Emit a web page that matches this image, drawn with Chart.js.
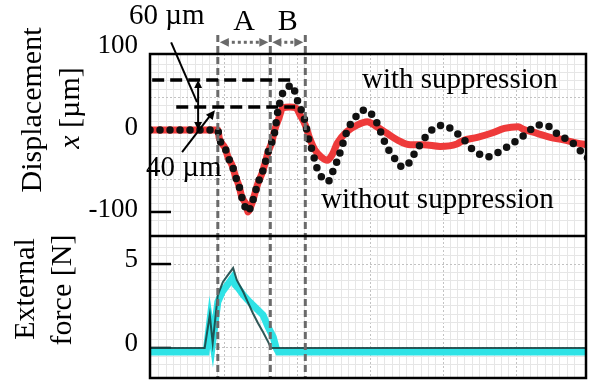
<!DOCTYPE html>
<html>
<head>
<meta charset="utf-8">
<script src="https://cdn.jsdelivr.net/npm/chart.js@4.4.0/dist/chart.umd.min.js"></script>
<style>
  body { margin: 0; background: #fff; }
  #wrap { position: relative; width: 595px; height: 382px; }
</style>
</head>
<body>
<div id="wrap"><canvas id="myChart" width="595" height="382"></canvas></div>
<script>
// time axis: 1 unit = one major grid division
const blackTime = [-0.02, 0.91, 0.93, 1.01, 1.05, 1.11, 1.15, 1.20, 1.24, 1.28, 1.31, 1.35, 1.38, 1.42, 1.46, 1.52, 1.56, 1.60, 1.65, 1.70, 1.72, 1.76, 1.80, 1.87, 1.93, 1.97, 2.01, 2.07, 2.11, 2.15, 2.20, 2.24, 2.28, 2.35, 2.42, 2.48, 2.55, 2.61, 2.68, 2.75, 2.82, 2.89, 2.96, 3.03, 3.09, 3.16, 3.23, 3.30, 3.37, 3.44, 3.51, 3.57, 3.64, 3.73, 3.82, 3.92, 4.00, 4.10, 4.19, 4.27, 4.37, 4.47, 4.60, 4.69, 4.82, 4.92, 5.06, 5.17, 5.29, 5.40, 5.49, 5.58, 5.67, 5.78, 5.91, 5.98]
const blackDisp = [0, 0, -10, -22, -33, -44, -56, -68, -82, -93, -100, -96, -89, -77, -65, -52, -40, -27, -15, 2, 16, 33, 45, 52, 55, 46, 34, 21, 9, -9, -24, -37, -49, -59, -63, -52, -37, -21, -2, 10, 18, 24, 24, 18, 9, -6, -21, -30, -39, -45, -43, -34, -24, -12, -2, 4, 6, 2, -4, -10, -21, -28, -33, -30, -24, -18, -10, -2, 6, 6, 2, -6, -10, -16, -28, -34]

const redTime = [-0.02, 0.91, 0.93, 1.01, 1.05, 1.11, 1.15, 1.20, 1.24, 1.31, 1.32, 1.38, 1.42, 1.46, 1.52, 1.56, 1.60, 1.65, 1.69, 1.75, 1.80, 1.90, 1.98, 2.04, 2.11, 2.17, 2.24, 2.33, 2.41, 2.48, 2.55, 2.68, 2.82, 2.96, 3.09, 3.23, 3.37, 3.55, 3.73, 3.96, 4.19, 4.27, 4.47, 4.66, 4.84, 5.03, 5.10, 5.29, 5.47, 5.65, 5.84, 5.98]
const redDisp = [0, 0, -10, -22, -33, -44, -56, -68, -82, -94, -100, -89, -77, -65, -52, -40, -27, -15, 0, 15, 27, 28, 27, 18, 6, -10, -24, -33, -37, -30, -16, -2, 6, 10, 4, -4, -12, -18, -18, -20, -17, -13, -9, -4, 2, 4, 1, -4, -9, -12, -16, -18]

const forceTime = [-0.02, 0.75, 0.80, 0.84, 0.91, 0.97, 1.04, 1.11, 1.15, 1.19, 1.26, 1.32, 1.39, 1.46, 1.53, 1.60, 1.67, 1.71, 1.74, 5.98]
const forceMeas = [-0.24, -0.24, 1.55, 0.36, 2.74, 3.33, 3.75, 4.17, 3.75, 3.57, 3.15, 2.86, 2.56, 2.26, 1.96, 1.25, 0.65, 0.0, -0.24, -0.24]

const estTime = [-0.02, 0.73, 0.80, 0.84, 0.91, 0.98, 1.05, 1.12, 1.17, 1.26, 1.32, 1.39, 1.46, 1.53, 1.60, 1.64, 5.98]
const forceEst = [0, 0, 1.96, 0.30, 3.15, 3.93, 4.35, 4.76, 4.05, 3.33, 2.74, 2.08, 1.49, 0.95, 0.36, 0, 0]

const dispTicks = [100, 0, -100]
const forceTicks = [5, 0]
const sections = [0.91, 1.63, 2.11]   // A | B limits
const levels = [61, 28]               // peak levels in um

const pts = (t, v) => t.map((x, i) => ({ x: x, y: v[i] }))
const isMajor = (v, step) => Math.abs(v / step - Math.round(v / step)) < 1e-6
const serif = 'Liberation Serif, Times New Roman, serif'

function arrowHead(ctx, x1, y1, x2, y2, size) {
  const a = Math.atan2(y2 - y1, x2 - x1)
  ctx.beginPath()
  ctx.moveTo(x2, y2)
  ctx.lineTo(x2 - size * Math.cos(a - 0.45), y2 - size * Math.sin(a - 0.45))
  ctx.lineTo(x2 - size * Math.cos(a + 0.45), y2 - size * Math.sin(a + 0.45))
  ctx.closePath()
  ctx.fill()
}

function seg(ctx, x1, y1, x2, y2) {
  ctx.beginPath()
  ctx.moveTo(x1, y1)
  ctx.lineTo(x2, y2)
  ctx.stroke()
}

const deco = {
  id: 'deco',
  beforeDatasetsDraw(chart) {
    const { ctx, chartArea: a, scales } = chart
    ctx.save()
    ctx.strokeStyle = '#000'
    ctx.lineWidth = 2.5
    dispTicks.forEach(v => {
      if (v > scales.y.max) return
      const py = scales.y.getPixelForValue(v)
      seg(ctx, a.left, py, a.left + 21, py)
    })
    forceTicks.forEach(v => {
      const py = scales.yf.getPixelForValue(v)
      seg(ctx, a.left, py, a.left + 21, py)
    })
    ctx.restore()
  },
  afterDatasetsDraw(chart) {
    const { ctx, chartArea: a, scales } = chart
    const x = scales.x, y = scales.y
    ctx.save()

    // section boundaries
    ctx.strokeStyle = '#6a6a6a'
    ctx.lineWidth = 3
    ctx.setLineDash([7, 4])
    sections.forEach(t => {
      const px = x.getPixelForValue(t)
      seg(ctx, px, y.getPixelForValue(116), px, a.bottom)
    })

    // A / B span arrows
    const ay = y.getPixelForValue(107)
    ctx.fillStyle = '#6a6a6a'
    for (let i = 0; i < 2; i++) {
      const x1 = x.getPixelForValue(sections[i]) + 2
      const x2 = x.getPixelForValue(sections[i + 1]) - 2
      ctx.setLineDash([3, 3])
      seg(ctx, x1 + 6, ay, x2 - 6, ay)
      ctx.setLineDash([])
      arrowHead(ctx, x2 - 10, ay, x1, ay, 10)
      arrowHead(ctx, x1 + 10, ay, x2, ay, 10)
    }

    // peak level dashed lines
    ctx.strokeStyle = '#000'
    ctx.fillStyle = '#000'
    ctx.lineWidth = 3.5
    ctx.setLineDash([12, 6])
    seg(ctx, x.getPixelForValue(0.01), y.getPixelForValue(levels[0]), x.getPixelForValue(1.94), y.getPixelForValue(levels[0]))
    seg(ctx, x.getPixelForValue(0.34), y.getPixelForValue(levels[1]), x.getPixelForValue(1.97), y.getPixelForValue(levels[1]))
    ctx.setLineDash([])

    // 60 um double arrow
    ctx.lineWidth = 2
    const dx = x.getPixelForValue(0.64)
    const dTop = y.getPixelForValue(levels[0]), dBot = y.getPixelForValue(0)
    seg(ctx, dx, dTop + 6, dx, dBot - 6)
    arrowHead(ctx, dx, dBot, dx, dTop, 9)
    arrowHead(ctx, dx, dTop, dx, dBot, 9)
    // pointer lines
    seg(ctx, x.getPixelForValue(0.27), y.getPixelForValue(107), x.getPixelForValue(0.625), y.getPixelForValue(34))
    const p1x = x.getPixelForValue(0.42), p1y = y.getPixelForValue(-27)
    const p2x = x.getPixelForValue(0.87), p2y = y.getPixelForValue(24)
    seg(ctx, p1x, p1y, p2x - 3, p2y + 3)
    arrowHead(ctx, p1x, p1y, p2x, p2y, 10)

    // frame and panel separator
    ctx.lineWidth = 2.5
    ctx.strokeRect(a.left, a.top, a.right - a.left, a.bottom - a.top)
    seg(ctx, a.left, y.bottom, a.right, y.bottom)

    // texts
    ctx.fillStyle = '#000'
    ctx.textBaseline = 'middle'
    ctx.font = '27px ' + serif
    ctx.textAlign = 'right'
    dispTicks.forEach(v => ctx.fillText(v === -100 ? '-100' : String(v), a.left - 12, y.getPixelForValue(v) - 2))
    forceTicks.forEach(v => ctx.fillText(String(v), a.left - 12, scales.yf.getPixelForValue(v) - 4))

    ctx.font = '29px ' + serif
    ctx.textAlign = 'left'
    ctx.fillText('60 \u00b5m', 129, 16)
    ctx.fillText('40 \u00b5m', 146, 168)
    ctx.fillText('with suppression', 362, 80)
    ctx.fillText('without suppression', 321, 200)
    ctx.font = '30px ' + serif
    ctx.textAlign = 'center'
    ctx.fillText('A', x.getPixelForValue((sections[0] + sections[1]) / 2), 22)
    ctx.fillText('B', x.getPixelForValue((sections[1] + sections[2]) / 2), 22)

    // rotated axis titles
    ctx.font = '30px ' + serif
    const rot = (txt, cx, cy) => {
      ctx.save()
      ctx.translate(cx, cy)
      ctx.rotate(-Math.PI / 2)
      ctx.textAlign = 'center'
      ctx.fillText(txt, 0, 0)
      ctx.restore()
    }
    rot('Displacement', 33, 110)
    rot('External', 26, 289)
    rot('force [N]', 63, 290)
    // x [um] with italic x
    ctx.save()
    ctx.translate(71, 108)
    ctx.rotate(-Math.PI / 2)
    ctx.textAlign = 'left'
    ctx.font = 'italic 30px ' + serif
    const w1 = ctx.measureText('x').width
    ctx.font = '30px ' + serif
    const w2 = ctx.measureText(' [\u00b5m]').width
    const start = -(w1 + w2) / 2
    ctx.font = 'italic 30px ' + serif
    ctx.fillText('x', start, 0)
    ctx.font = '30px ' + serif
    ctx.fillText(' [\u00b5m]', start + w1, 0)
    ctx.restore()

    ctx.restore()
  }
}

const ctx = document.getElementById('myChart').getContext('2d')
const myChart = new Chart(ctx, {
  type: 'line',
  data: {
    datasets: [
      {
        label: 'without suppression',
        data: pts(blackTime, blackDisp),
        yAxisID: 'y',
        borderColor: '#111',
        borderWidth: 7.5,
        borderDash: [0, 10],
        borderCapStyle: 'round',
        cubicInterpolationMode: 'monotone',
        pointRadius: 0,
        order: 0,
      },
      {
        label: 'with suppression',
        data: pts(redTime, redDisp),
        yAxisID: 'y',
        borderColor: '#ee3a3a',
        borderWidth: 7,
        cubicInterpolationMode: 'monotone',
        pointRadius: 0,
        order: 1,
      },
      {
        label: 'estimated force',
        data: pts(estTime, forceEst),
        yAxisID: 'yf',
        borderColor: 'rgba(25,70,70,0.9)',
        borderWidth: 2,
        tension: 0,
        pointRadius: 0,
        order: 2,
      },
      {
        label: 'external force',
        data: pts(forceTime, forceMeas),
        yAxisID: 'yf',
        borderColor: '#2fe3e6',
        borderWidth: 7,
        tension: 0,
        pointRadius: 0,
        order: 3,
      },
    ]
  },
  options: {
    responsive: false,
    devicePixelRatio: 1,
    animation: false,
    layout: { padding: { left: 150, right: 9, top: 54, bottom: 4 } },
    plugins: {
      legend: { display: false },
      tooltip: { enabled: false },
    },
    scales: {
      x: {
        type: 'linear',
        min: -0.02,
        max: 5.96,
        afterFit: (s) => { s.height = 0 },
        ticks: { display: false, stepSize: 0.1, autoSkip: false, maxTicksLimit: 1000 },
        grid: {
          drawTicks: false,
          color: (c) => (c.tick && isMajor(c.tick.value, 1)) ? '#c2c2c2' : '#e6e6e6',
        },
        border: { display: false, dash: (c) => (c.tick && isMajor(c.tick.value, 1)) ? [2, 2] : [] },
      },
      y: {
        type: 'linear',
        position: 'left',
        stack: 'panels',
        stackWeight: 182,
        weight: 2,
        min: -129.3,
        max: 92.7,
        afterFit: (s) => { s.width = 0 },
        ticks: { display: false, stepSize: 10, autoSkip: false, maxTicksLimit: 1000 },
        grid: {
          drawTicks: false,
          color: (c) => (c.tick && isMajor(c.tick.value - 40, 100)) ? '#c2c2c2' : '#e6e6e6',
        },
        border: { display: false, dash: (c) => (c.tick && isMajor(c.tick.value - 40, 100)) ? [2, 2] : [] },
      },
      yf: {
        type: 'linear',
        position: 'left',
        stack: 'panels',
        stackWeight: 142,
        weight: 1,
        min: -1.79,
        max: 6.67,
        afterFit: (s) => { s.width = 0 },
        ticks: { display: false, stepSize: 0.5, autoSkip: false, maxTicksLimit: 1000 },
        grid: {
          drawTicks: false,
          color: (c) => (c.tick && isMajor(c.tick.value, 5)) ? '#c2c2c2' : '#e6e6e6',
        },
        border: { display: false, dash: (c) => (c.tick && isMajor(c.tick.value, 5)) ? [2, 2] : [] },
      },
    },
  },
  plugins: [deco],
})
</script>
</body>
</html>
